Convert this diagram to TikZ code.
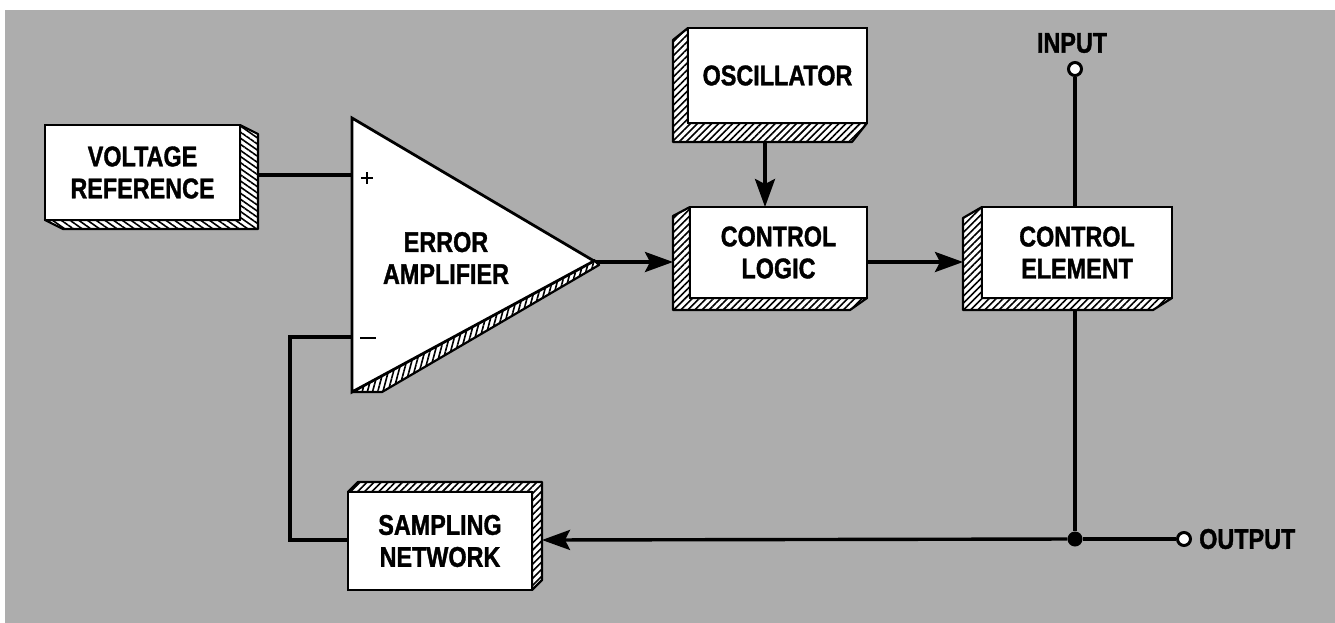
\documentclass[tikz,border=0pt]{standalone}
\usepackage{fontspec}
\setmainfont{Liberation Sans}[FakeStretch=0.82,BoldFeatures={FakeBold=1.2}]
\usetikzlibrary{arrows.meta,patterns.meta}
\definecolor{bggray}{gray}{0.68}
\tikzset{
  blk/.style={draw=black,line width=2.8pt,fill=white,inner sep=0pt,align=center,
    font=\fontsize{28.5}{32}\selectfont\bfseries},
  shade/.style={draw=black,line width=2.2pt,line join=round,
    preaction={fill=white},pattern={Lines[angle=45,distance=5pt,line width=1.6pt]}},
  wire/.style={line width=3.4pt},
  arr/.style={wire,-{Stealth[length=28pt,width=20pt,inset=5pt]}},
  term/.style={circle,draw=black,fill=white,line width=3pt,minimum size=13pt,inner sep=0pt},
  lbl/.style={font=\fontsize{28.5}{30}\selectfont\bfseries,inner sep=0pt}
}
\begin{document}
\begin{tikzpicture}[x=1pt,y=-1pt]
\useasboundingbox (0,0) rectangle (1335,623);
\fill[bggray] (5,10) rectangle (1335,623);

% ---- wires (drawn first, boxes on top) ----
\coordinate (vrout) at (258,175);
\coordinate (ampP) at (352,175);
\coordinate (ampM) at (352,337);
\coordinate (apex) at (594,262);
\coordinate (clin) at (673,262);
\coordinate (clout) at (867,262);
\coordinate (cein) at (963,262);
\coordinate (oscout) at (765,142);
\coordinate (clin2) at (765,207);
\coordinate (ceout) at (1075,298);
\coordinate (snin) at (542,540);
\coordinate (fb) at (290,337);
\coordinate (fb2) at (290,540);
\coordinate (snleft) at (348,540);
\node[term] (inp) at (1075,69) {};
\node[term] (outp) at (1184,539) {};
\node[circle,fill=black,minimum size=15pt,inner sep=0pt] (jn) at (1075,539) {};

\draw[wire] (vrout) -- (ampP);
\draw[arr] (apex) -- (clin);
\draw[arr] (clout) -- (cein);
\draw[arr] (oscout) -- (clin2);
\draw[wire] (inp) -- (1075,207);
\draw[wire] (ceout) -- (jn);
\draw[wire] (jn) -- (outp);
\draw[arr] (jn) -- (snin);
\draw[wire,line join=miter] (ampM) -- (fb) -- (fb2) -- (snleft);

% ---- Voltage reference (shadow right/bottom) ----
\draw[shade,pattern={Lines[angle=-35,distance=5pt,line width=1.6pt]}]
  (240,125) -- (258,134) -- (258,229) -- (63,229) -- (45,220) -- (240,220) -- cycle;
\node[blk,minimum width=195pt,minimum height=95pt] (vr) at (142.5,172.5) {VOLTAGE\\REFERENCE};

% ---- Error amplifier ----
\draw[shade,pattern={Lines[angle=75,distance=5pt,line width=1.6pt]}]
  (352,392) -- (594,260) -- (599,265) -- (382,392) -- cycle;
\draw[line width=2.8pt,fill=white,line join=miter] (352,118) -- (594,261) -- (352,392) -- cycle;
\node[lbl,align=center,font=\fontsize{28.5}{32}\selectfont\bfseries] (amp) at (446,258) {ERROR\\AMPLIFIER};
\draw[line width=1.2pt] (361,178) -- (373,178) (367,172) -- (367,184);
\draw[line width=1.2pt] (360,338) -- (376,338);

% ---- Oscillator (shadow left/bottom) ----
\draw[shade] (688,28) -- (673,40) -- (673,142) -- (852,142) -- (867,123) -- (688,123) -- cycle;
\node[blk,minimum width=179pt,minimum height=95pt] (osc) at (777.5,75.5) {OSCILLATOR};

% ---- Control logic ----
\draw[shade] (690,207) -- (673,216) -- (673,310) -- (850,310) -- (867,298) -- (690,298) -- cycle;
\node[blk,minimum width=177pt,minimum height=91pt] (cl) at (778.5,252.5) {CONTROL\\LOGIC};

% ---- Control element ----
\draw[shade] (982,207) -- (963,218) -- (963,310) -- (1153,310) -- (1172,298) -- (982,298) -- cycle;
\node[blk,minimum width=190pt,minimum height=91pt] (ce) at (1077,252.5) {CONTROL\\ELEMENT};

% ---- Sampling network (shadow top/right) ----
\draw[shade] (348,492) -- (358,482) -- (542,482) -- (542,580) -- (532,590) -- (532,492) -- cycle;
\node[blk,minimum width=184pt,minimum height=98pt] (sn) at (440,541) {SAMPLING\\NETWORK};

% ---- terminal labels ----
\node[lbl] (intxt) at (1072,43) {INPUT};
\node[lbl,anchor=west] (outtxt) at (1199,539) {OUTPUT};
\end{tikzpicture}
\end{document}
